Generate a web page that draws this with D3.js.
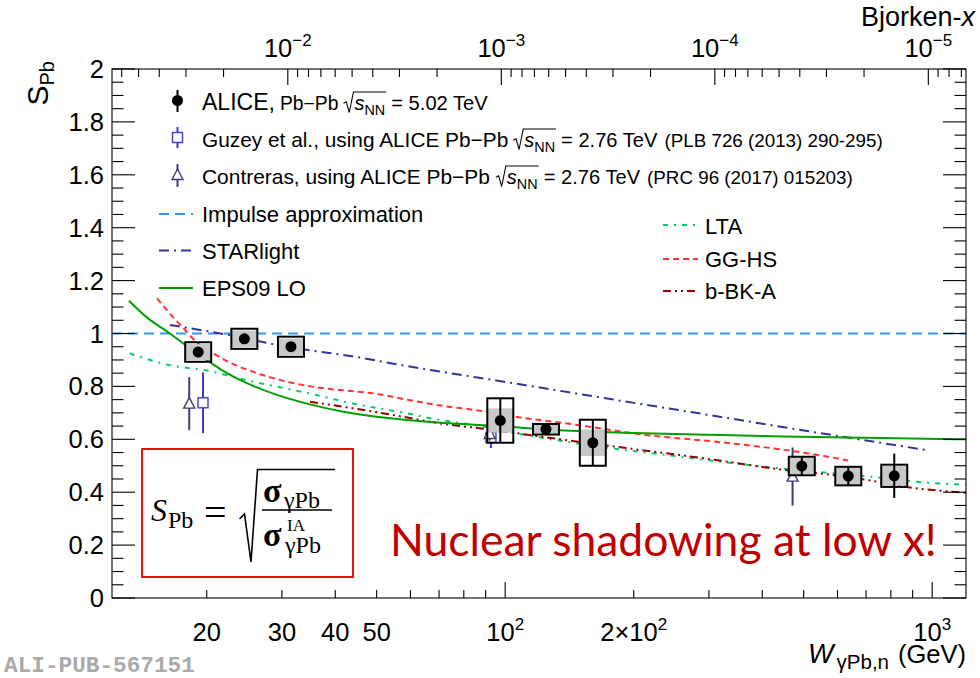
<!DOCTYPE html>
<html>
<head>
<meta charset="utf-8">
<script src="https://cdn.jsdelivr.net/npm/d3@7"></script>
<style>
  body { margin: 0; background: #fff; }
  svg { font-family: "Liberation Sans", Arial, Helvetica, sans-serif; }
</style>
</head>
<body>
<svg id="chart" width="980" height="678"></svg>
<script>
// ---------------- data ----------------
const MJPSI = 3.0969; // GeV, used for the Bjorken-x axis x = (M/W)^2

// ALICE Pb-Pb 5.02 TeV
const aliceW       = [19.1, 24.5, 31.5, 97.4, 124.6, 160.4, 495, 636, 815];
const aliceS       = [0.930, 0.980, 0.950, 0.671, 0.638, 0.587, 0.499, 0.461, 0.462];
const aliceStat    = [0.012, 0.012, 0.012, 0.084, 0.020, 0.087, 0.035, 0.035, 0.084];
const aliceSystUnc = [0.030, 0.031, 0.031, 0.046, 0.016, 0.050, 0.031, 0.031, 0.037];
const aliceSystCor = [0.037, 0.038, 0.038, 0.084, 0.020, 0.087, 0.035, 0.035, 0.042];

// Guzey et al. (2.76 TeV)
const guzeyW   = [19.6, 92.6];
const guzeyS   = [0.738, 0.607];
const guzeyErr = [0.115, 0.040];

// Contreras (2.76 TeV)
const contrW   = [18.2, 92.0, 471];
const contrS   = [0.735, 0.620, 0.459];
const contrErr = [0.100, 0.025, 0.110];

// model curves
const iaW = [12, 1200];
const iaS = [1.0, 1.0];

const starW = [16.4, 21.9, 29.2, 36.8, 41.8, 58.8, 70.4, 100, 178, 300, 472, 972];
const starS = [1.032, 0.998, 0.957, 0.931, 0.919, 0.877, 0.856, 0.817, 0.751, 0.692, 0.640, 0.559];

const epsW = [13.15, 14.5, 16.4, 17.6, 20.0, 22.0, 24.4, 29.2, 34.9, 41.8, 50.0, 59.8, 70.4, 85, 100, 134, 200, 300, 450, 700, 1200];
const epsS = [1.124, 1.060, 1.000, 0.963, 0.900, 0.856, 0.818, 0.768, 0.732, 0.704, 0.685, 0.672, 0.663, 0.655, 0.648, 0.634, 0.624, 0.617, 0.611, 0.606, 0.600];

const ltaW = [13.2, 16.4, 20.0, 25.0, 30.0, 36.0, 42.0, 58.0, 70.4, 84.7, 112, 178, 258, 395, 566, 787, 887, 1200];
const ltaS = [0.925, 0.880, 0.860, 0.822, 0.795, 0.768, 0.742, 0.700, 0.673, 0.654, 0.616, 0.566, 0.534, 0.498, 0.474, 0.452, 0.442, 0.428];

const gghsW = [15.3, 16.4, 17.5, 19.0, 20.7, 23.0, 25.7, 30.8, 36.8, 41.8, 50.0, 58.8, 71.7, 84.7, 106, 148, 214, 311, 451, 566, 635];
const gghsS = [1.133, 1.075, 1.026, 0.965, 0.925, 0.885, 0.855, 0.818, 0.795, 0.785, 0.772, 0.750, 0.726, 0.711, 0.685, 0.654, 0.616, 0.591, 0.560, 0.535, 0.520];

const bbkW = [34.9, 41.8, 57.7, 70.4, 87.8, 148, 311, 472, 566, 700, 887, 1200];
const bbkS = [0.742, 0.723, 0.685, 0.660, 0.641, 0.591, 0.522, 0.480, 0.468, 0.447, 0.418, 0.398];

// axis tick labels
const yTickLabels = ["0", "0.2", "0.4", "0.6", "0.8", "1", "1.2", "1.4", "1.6", "1.8", "2"];
const wLabelValues = [20, 30, 40, 50, 100, 200, 1000];
const bjxLabelExponents = [-2, -3, -4, -5];

// ---------------- chart ----------------
const svg = d3.select("#chart");
svg.append("rect").attr("width", 980).attr("height", 678).attr("fill", "#fff");

const L = 112, R = 966, T = 69, B = 598;
const x = d3.scaleLog().domain([12, 1200]).range([L, R]);
const y = d3.scaleLinear().domain([0, 2]).range([B, T]);
const bjx = w => (MJPSI / w) ** 2;
const xTop = d3.scaleLog().domain([bjx(12), bjx(1200)]).range([L, R]);

// rich text: pieces laid out left to right; a piece with `w` is sized to that width
function rich(parent, px, py, parts, anchor = "start", fill = "#000", transform = null) {
  const g = parent.append("g");
  let cx = 0;
  function put(p) {
    if (p.sqrt) {
      const rx = cx, h = p.h, rw = p.rw;
      cx += rw + 1;
      p.sqrt.forEach(put);
      const end = cx + 1;
      g.append("path")
        .attr("d", `M${rx},${-h * 0.38} L${rx + rw * 0.28},${-h * 0.46} L${rx + rw * 0.58},${2.5} L${rx + rw},${-h} L${end},${-h}`)
        .attr("fill", "none").attr("stroke", fill).attr("stroke-width", 1.1);
      cx = end + (p.after || 0);
      return;
    }
    const t = g.append("text").attr("x", cx).attr("y", p.dy || 0)
      .attr("font-size", p.size).attr("fill", fill).text(p.t);
    if (p.italic) t.attr("font-style", "italic");
    if (p.family) t.attr("font-family", p.family);
    if (p.weight) t.attr("font-weight", p.weight);
    let len = t.node().getComputedTextLength();
    if (p.w) {
      t.attr("font-size", p.size * p.w / len);
      len = t.node().getComputedTextLength();
    }
    cx += len + (p.after || 0);
  }
  parts.forEach(put);
  const off = anchor === "end" ? -cx : anchor === "middle" ? -cx / 2 : 0;
  g.attr("transform", (transform ? transform + " " : "") + `translate(${px + off},${py})`);
  return { g, width: cx };
}

// clip region for curves
svg.append("defs").append("clipPath").attr("id", "plotclip")
  .append("rect").attr("x", L).attr("y", T).attr("width", R - L).attr("height", B - T);

const plot = svg.append("g");
const curves = plot.append("g").attr("clip-path", "url(#plotclip)");

const line = d3.line().x(d => x(d[0])).y(d => y(d[1])).curve(d3.curveMonotoneX);
const zip = (a, b) => a.map((v, i) => [v, b[i]]);

const models = [
  { w: iaW,   s: iaS,   color: "#3399ff", dash: "10,6",        width: 2 },
  { w: starW, s: starS, color: "#33339a", dash: "10,5,2,5",    width: 2 },
  { w: gghsW, s: gghsS, color: "#ff3333", dash: "6,4",         width: 2 },
  { w: ltaW,  s: ltaS,  color: "#00cc66", dash: "5,6,2,6",     width: 2 },
  { w: bbkW,  s: bbkS,  color: "#990000", dash: "8,4,2,4,2,4", width: 2 },
  { w: epsW,  s: epsS,  color: "#00a000", dash: null,          width: 2 }
];
models.forEach(m => {
  curves.append("path").datum(zip(m.w, m.s)).attr("d", line)
    .attr("fill", "none").attr("stroke", m.color).attr("stroke-width", m.width)
    .attr("stroke-dasharray", m.dash);
});

// ---- Guzey (open squares) ----
const guzeyColor = "#3b3bd0";
guzeyW.forEach((w, i) => {
  const cx = x(w), cy = y(guzeyS[i]);
  plot.append("line").attr("x1", cx).attr("x2", cx)
    .attr("y1", y(guzeyS[i] + guzeyErr[i])).attr("y2", y(guzeyS[i] - guzeyErr[i]))
    .attr("stroke", guzeyColor).attr("stroke-width", 2);
  plot.append("rect").attr("x", cx - 5).attr("y", cy - 5).attr("width", 10).attr("height", 10)
    .attr("fill", "#fff").attr("stroke", guzeyColor).attr("stroke-width", 1.4);
});

// ---- Contreras (open triangles) ----
const contrColor = "#3f3f6e";
const triPath = (cx, cy) => `M${cx},${cy - 6} L${cx + 5.5},${cy + 4.5} L${cx - 5.5},${cy + 4.5} Z`;
contrW.forEach((w, i) => {
  const cx = x(w), cy = y(contrS[i]);
  plot.append("line").attr("x1", cx).attr("x2", cx)
    .attr("y1", y(contrS[i] + contrErr[i])).attr("y2", y(contrS[i] - contrErr[i]))
    .attr("stroke", contrColor).attr("stroke-width", 2);
  plot.append("path").attr("d", triPath(cx, cy))
    .attr("fill", "#fff").attr("stroke", contrColor).attr("stroke-width", 1.4);
});

// ---- ALICE points with systematic boxes ----
const boxHalf = 13;
aliceW.forEach((w, i) => {
  const cx = x(w), v = aliceS[i];
  plot.append("rect").attr("x", cx - boxHalf).attr("width", 2 * boxHalf)
    .attr("y", y(v + aliceSystUnc[i])).attr("height", y(v - aliceSystUnc[i]) - y(v + aliceSystUnc[i]))
    .attr("fill", "#c8c8c8");
  plot.append("rect").attr("x", cx - boxHalf).attr("width", 2 * boxHalf)
    .attr("y", y(v + aliceSystCor[i])).attr("height", y(v - aliceSystCor[i]) - y(v + aliceSystCor[i]))
    .attr("fill", "none").attr("stroke", "#000").attr("stroke-width", 2);
  plot.append("line").attr("x1", cx).attr("x2", cx)
    .attr("y1", y(v + aliceStat[i])).attr("y2", y(v - aliceStat[i]))
    .attr("stroke", "#000").attr("stroke-width", 2);
  plot.append("circle").attr("cx", cx).attr("cy", y(v)).attr("r", 5.5).attr("fill", "#000");
});

// ---- frame and ticks ----
const axes = svg.append("g").attr("stroke", "#000").attr("stroke-width", 1.1);
axes.append("rect").attr("x", L).attr("y", T).attr("width", R - L).attr("height", B - T).attr("fill", "none");

// y ticks (left and right)
d3.range(0, 41).forEach(k => {
  const v = k * 0.05, yy = y(v), major = k % 4 === 0, len = major ? 23 : 11.5;
  axes.append("line").attr("x1", L).attr("x2", L + len).attr("y1", yy).attr("y2", yy);
  axes.append("line").attr("x1", R).attr("x2", R - len).attr("y1", yy).attr("y2", yy);
});

// bottom log ticks (W)
[1, 2].forEach(e => d3.range(1, 10).forEach(k => {
  const v = k * 10 ** e;
  if (v < 12 || v > 1200) return;
  const len = k === 1 ? 16 : 8;
  axes.append("line").attr("x1", x(v)).attr("x2", x(v)).attr("y1", B).attr("y2", B - len);
}));
axes.append("line").attr("x1", x(1000)).attr("x2", x(1000)).attr("y1", B).attr("y2", B - 16);

// top log ticks (Bjorken-x)
d3.range(-6, 0).forEach(e => d3.range(1, 10).forEach(k => {
  const v = k * 10 ** e;
  const lo = bjx(1200), hi = bjx(12);
  if (v < lo || v > hi) return;
  const len = k === 1 ? 16 : 8;
  axes.append("line").attr("x1", xTop(v)).attr("x2", xTop(v)).attr("y1", T).attr("y2", T + len);
}));

// y tick labels
yTickLabels.forEach((lab, i) => {
  svg.append("text").attr("x", 104).attr("y", y(i * 0.2) + 9).attr("text-anchor", "end")
    .attr("font-size", 25.5).text(lab);
});

// bottom labels
const TS = 25.5, SUP = 17;
wLabelValues.forEach(v => {
  const e = Math.log10(v);
  let parts;
  if (Math.abs(e - Math.round(e)) < 1e-9 && v >= 100) {
    parts = [{ t: "10", size: TS }, { t: String(Math.round(e)), size: SUP, dy: -11 }];
  } else if (v >= 100) {
    const lead = v / 10 ** Math.floor(e);
    parts = [{ t: lead + "\u00d710", size: TS }, { t: String(Math.floor(e)), size: SUP, dy: -11 }];
  } else {
    parts = [{ t: String(v), size: TS }];
  }
  rich(svg, x(v), 641, parts, "middle");
});

// top labels
bjxLabelExponents.forEach(e => {
  rich(svg, xTop(10 ** e), 57,
    [{ t: "10", size: TS }, { t: "\u2212" + Math.abs(e), size: SUP, dy: -11 }], "middle");
});

// axis titles
rich(svg, 975, 26, [{ t: "Bjorken-", size: 27 }, { t: "x", size: 27, italic: true }], "end");
rich(svg, 966, 663, [
  { t: "W", size: 27, italic: true, after: 3 },
  { t: "\u03b3Pb,n", size: 20.5, dy: 6, after: 9 },
  { t: "(GeV)", size: TS }
], "end");
rich(svg, 0, 0, [{ t: "S", size: 30 }, { t: "Pb", size: 20, dy: 6 }], "end", "#000",
  "translate(48,61) rotate(-90)");

// ---- legend (left) ----
const legX = 202, mkX = 177.5;
const sqrtNN = sz => ({ sqrt: [{ t: "s", size: sz, italic: true }, { t: "NN", size: sz * 0.72, dy: 5 }], rw: 10, h: 18, after: 5 });

// ALICE
svg.append("line").attr("x1", mkX).attr("x2", mkX).attr("y1", 90).attr("y2", 112).attr("stroke", "#000").attr("stroke-width", 2);
svg.append("circle").attr("cx", mkX).attr("cy", 100.5).attr("r", 5.5).attr("fill", "#000");
rich(svg, legX, 110, [
  { t: "ALICE,", size: 22, w: 73, after: 5 },
  { t: "Pb\u2212Pb", size: 19.5, w: 58.5, after: 5 },
  sqrtNN(20),
  { t: "= 5.02 TeV", size: 19.5, w: 96.5 }
]);

// Guzey
svg.append("line").attr("x1", mkX).attr("x2", mkX).attr("y1", 127).attr("y2", 148).attr("stroke", guzeyColor).attr("stroke-width", 2);
svg.append("rect").attr("x", mkX - 5).attr("y", 132.5).attr("width", 10).attr("height", 10)
  .attr("fill", "#fff").attr("stroke", guzeyColor).attr("stroke-width", 1.4);
rich(svg, legX, 147, [
  { t: "Guzey et al., using ALICE Pb\u2212Pb", size: 22, w: 306.5, after: 5 },
  sqrtNN(20),
  { t: "= 2.76 TeV", size: 19.5, w: 96.5, after: 7 },
  { t: "(PLB 726 (2013) 290-295)", size: 18.8 }
]);

// Contreras
svg.append("line").attr("x1", mkX).attr("x2", mkX).attr("y1", 164).attr("y2", 187).attr("stroke", contrColor).attr("stroke-width", 2);
svg.append("path").attr("d", triPath(mkX, 175)).attr("fill", "#fff").attr("stroke", contrColor).attr("stroke-width", 1.4);
rich(svg, legX, 184, [
  { t: "Contreras, using ALICE Pb\u2212Pb", size: 22, w: 288, after: 6 },
  sqrtNN(20),
  { t: "= 2.76 TeV", size: 19.5, w: 96.5, after: 7 },
  { t: "(PRC 96 (2017) 015203)", size: 18.8 }
]);

const legLines = [
  { label: "Impulse approximation", m: models[0], ly: 214,   by: 222,   x1: 159, x2: 193, tx: legX },
  { label: "STARlight",             m: models[1], ly: 250.5, by: 258.5, x1: 159, x2: 193, tx: legX },
  { label: "EPS09 LO",              m: models[5], ly: 288,   by: 295.5, x1: 159, x2: 193, tx: legX },
  { label: "LTA",                   m: models[3], ly: 225,   by: 233.5, x1: 663, x2: 698, tx: 705 },
  { label: "GG-HS",                 m: models[2], ly: 259,   by: 267,   x1: 663, x2: 698, tx: 705 },
  { label: "b-BK-A",                m: models[4], ly: 291,   by: 298.5, x1: 663, x2: 698, tx: 705 }
];
legLines.forEach(d => {
  svg.append("line").attr("x1", d.x1).attr("x2", d.x2).attr("y1", d.ly).attr("y2", d.ly)
    .attr("stroke", d.m.color).attr("stroke-width", d.m.width).attr("stroke-dasharray", d.m.dash);
  svg.append("text").attr("x", d.tx).attr("y", d.by).attr("font-size", 22).text(d.label);
});

// ---- formula box: S_Pb = sqrt(sigma / sigma^IA) ----
svg.append("rect").attr("x", 142).attr("y", 449).attr("width", 211).attr("height", 128)
  .attr("fill", "none").attr("stroke", "#ee1111").attr("stroke-width", 2);
const serif = "Liberation Serif, Times New Roman, serif";
const fg = svg.append("g").attr("font-family", serif);
const ftext = (tx, ty, str, size, opts = {}) => {
  const t = fg.append("text").attr("x", tx).attr("y", ty).attr("font-size", size).text(str);
  if (opts.italic) t.attr("font-style", "italic");
  if (opts.weight) t.attr("font-weight", opts.weight);
  if (opts.ls) t.attr("letter-spacing", opts.ls);
  return t;
};
ftext(151, 521, "S", 32, { italic: true });
ftext(168, 528, "Pb", 24);
ftext(204, 526, "=", 40);
fg.append("path").attr("d", "M239.5,519 L244.5,514 L251,562 L257.5,469.5 L335,469.5")
  .attr("fill", "none").attr("stroke", "#000").attr("stroke-width", 1.6);
ftext(263, 502, "\u03c3", 34, { weight: "bold" });
ftext(284, 508, "\u03b3Pb", 24);
fg.append("line").attr("x1", 262).attr("x2", 332).attr("y1", 510).attr("y2", 510).attr("stroke", "#000").attr("stroke-width", 1.5);
ftext(263, 546, "\u03c3", 34, { weight: "bold" });
ftext(287, 531, "IA", 17);
ftext(285, 553, "\u03b3Pb", 24);

// ---- annotation ----
const note = svg.append("text").attr("x", 390).attr("y", 556).attr("fill", "#c00000")
  .attr("font-family", "Lato, 'Open Sans', sans-serif").attr("font-size", 40).text("Nuclear shadowing at low x!");
const nw = note.node().getComputedTextLength();
note.attr("font-size", 40 * 547 / nw);

// ---- publication id ----
const pub = svg.append("text").attr("x", 4).attr("y", 672).attr("fill", "#aaaaaa")
  .attr("font-family", "Liberation Mono, Courier New, monospace").attr("font-weight", "bold")
  .attr("font-size", 16).text("ALI-PUB-567151");
const pw = pub.node().getComputedTextLength();
pub.attr("font-size", 16 * 191 / pw);
</script>
</body>
</html>
